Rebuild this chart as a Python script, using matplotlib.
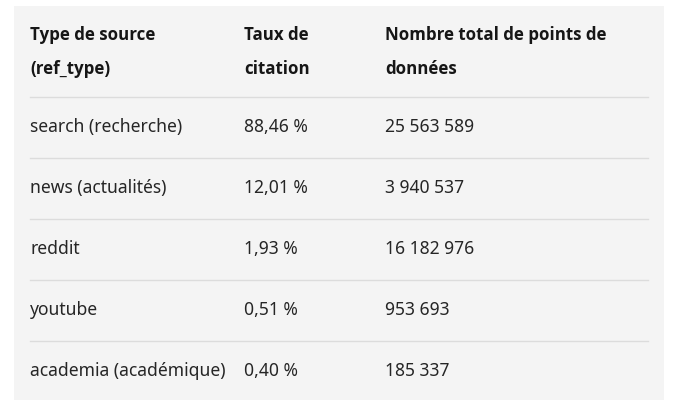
import matplotlib
matplotlib.use("Agg")
import matplotlib.pyplot as plt
from matplotlib.patches import Rectangle

headers = ["Type de source\n(ref_type)", "Taux de\ncitation", "Nombre total de points de\ndonnées"]
sources = ["search (recherche)", "news (actualités)", "reddit", "youtube", "academia (académique)"]
rates = ["88,46 %", "12,01 %", "1,93 %", "0,51 %", "0,40 %"]
counts = ["25 563 589", "3 940 537", "16 182 976", "953 693", "185 337"]

W, H = 686, 409
fig = plt.figure(figsize=(W/100, H/100), dpi=100)
ax = fig.add_axes([0, 0, 1, 1])
ax.set_xlim(0, W); ax.set_ylim(H, 0); ax.axis("off")
ax.add_patch(Rectangle((14, 6), 650, 394, color="#f4f4f4", lw=0))

colx = [30, 244, 385]
font = ["Noto Sans", "DejaVu Sans"]
bfont = ["Open Sans", "DejaVu Sans"]
for x, h in zip(colx, headers):
    ax.text(x, 52, h, ha="left", va="center", fontsize=12.2, fontweight="bold",
            color="#161616", family=bfont, linespacing=2.15)
ax.plot([30, 648], [97, 97], color="#dcdcdc", lw=1)
for i, row in enumerate(zip(sources, rates, counts)):
    y = 127 + i * 61
    for x, t in zip(colx, row):
        ax.text(x, y, t, ha="left", va="center", fontsize=12.6, color="#262626", family=font)
    if i < len(sources) - 1:
        ax.plot([30, 648], [y + 31, y + 31], color="#dcdcdc", lw=1)
fig.savefig("out.png", dpi=100)
